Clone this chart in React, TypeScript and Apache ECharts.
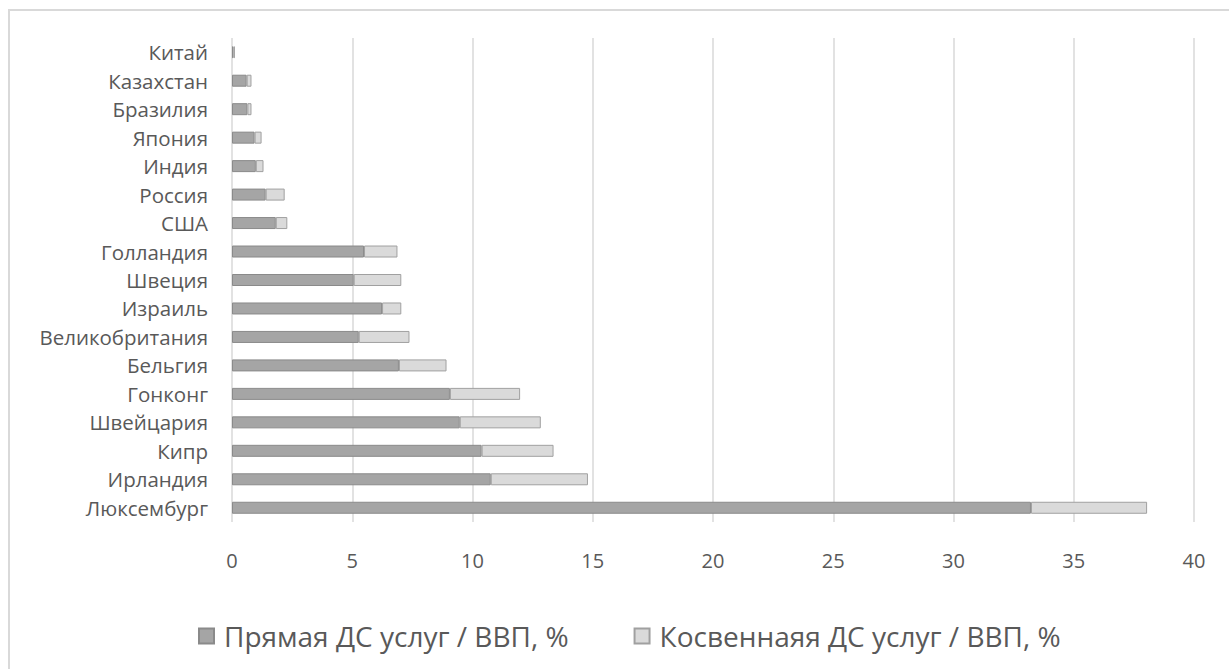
import React, { useEffect, useRef } from "react";
import * as echarts from "echarts";

const categories = [
  "Китай", "Казахстан", "Бразилия", "Япония", "Индия", "Россия", "США",
  "Голландия", "Швеция", "Израиль", "Великобритания", "Бельгия", "Гонконг",
  "Швейцария", "Кипр", "Ирландия", "Люксембург",
];
const directValues = [0.06, 0.61, 0.64, 0.94, 0.99, 1.4, 1.82, 5.49, 5.06, 6.24, 5.27, 6.94, 9.06, 9.47, 10.38, 10.76, 33.22];
const indirectValues = [0.06, 0.2, 0.17, 0.29, 0.32, 0.79, 0.48, 1.39, 1.98, 0.8, 2.11, 1.98, 2.92, 3.37, 2.99, 4.04, 4.83];
const seriesNames = ["Прямая ДС услуг / ВВП, %", "Косвеннаяя ДС услуг / ВВП, %"];
const xTicks = { min: 0, max: 40, interval: 5 };

const FONT = "'Open Sans', sans-serif";
const TEXT = "#595959";

export default function App() {
  const ref = useRef<HTMLDivElement>(null);
  useEffect(() => {
    if (!ref.current) return;
    const chart = echarts.init(ref.current, null, { renderer: "svg" });
    chart.setOption({
      animation: false,
      backgroundColor: "#ffffff",
      textStyle: { fontFamily: FONT, color: TEXT },
      graphic: [
        {
          type: "rect",
          shape: { x: 9, y: 10, width: 1240, height: 680 },
          style: { fill: "none", stroke: "#d9d9d9", lineWidth: 2 },
          silent: true,
        },
      ],
      grid: { left: 232, right: 35, top: 38, height: 484 },
      legend: {
        bottom: 14,
        left: 193,
        itemWidth: 15,
        itemHeight: 15,
        itemGap: 65,
        icon: "rect",
        textStyle: { fontFamily: FONT, fontSize: 28, color: TEXT, padding: [0, 0, 0, 5] },
        data: seriesNames,
      },
      xAxis: {
        type: "value",
        min: xTicks.min,
        max: xTicks.max,
        interval: xTicks.interval,
        axisLine: { show: false },
        axisTick: { show: false },
        splitLine: { show: true, lineStyle: { color: "#d9d9d9", width: 1.5 } },
        axisLabel: { fontFamily: FONT, fontSize: 20, color: TEXT, margin: 28 },
      },
      yAxis: {
        type: "category",
        inverse: true,
        data: categories,
        axisLine: { show: false },
        axisTick: { show: false },
        axisLabel: { fontFamily: FONT, fontSize: 20.5, color: TEXT, margin: 24 },
      },
      series: [
        {
          name: seriesNames[0],
          type: "bar",
          stack: "total",
          barWidth: 12,
          data: directValues,
          itemStyle: { color: "#a5a5a5", borderColor: "#8a8a8a", borderWidth: 1 },
        },
        {
          name: seriesNames[1],
          type: "bar",
          stack: "total",
          barWidth: 12,
          data: indirectValues,
          itemStyle: { color: "#dadada", borderColor: "#a0a0a0", borderWidth: 1 },
        },
      ],
    });
    return () => chart.dispose();
  }, []);
  return (
    <div
      ref={ref}
      style={{ position: "fixed", left: 0, top: 0, width: 1229, height: 669, background: "#fff" }}
    />
  );
}
